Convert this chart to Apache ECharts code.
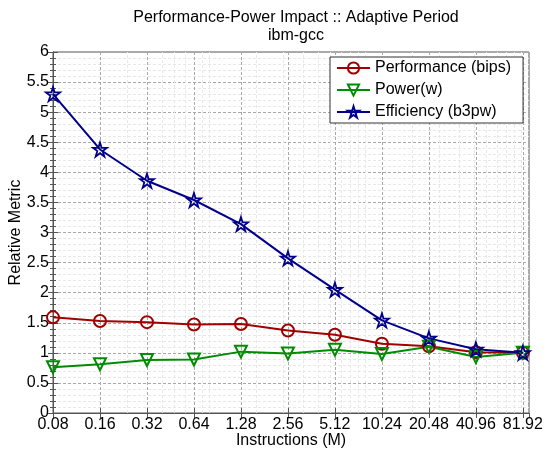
<!DOCTYPE html>
<html><head><meta charset="utf-8">
<script src="https://cdn.jsdelivr.net/npm/echarts@6/dist/echarts.min.js"></script>
<style>html,body{margin:0;padding:0;background:#fff;}#c{width:546px;height:453px;}</style>
</head><body><div id="c"></div>
<script>
const instructions = ['0.08','0.16','0.32','0.64','1.28','2.56','5.12','10.24','20.48','40.96','81.92'];
const performance = [1.59,1.53,1.51,1.47,1.48,1.37,1.30,1.15,1.11,1.01,1.00];
const power = [0.76,0.81,0.88,0.89,1.02,0.99,1.05,0.98,1.10,0.93,1.00];
const efficiency = [5.30,4.38,3.86,3.54,3.14,2.57,2.05,1.54,1.24,1.06,1.00];
const yTicks = [0,0.5,1,1.5,2,2.5,3,3.5,4,4.5,5,5.5,6];

const FONT = 'Liberation Sans, Arial, sans-serif';
const XMAX = 10.13;
// log-decade minor grid positions (axis is log2 of instructions / 0.08)
const minorX = [];
for (let d = 1; d <= 1000; d *= 10) {
  for (let k = 1; k <= 9; k++) {
    const u = k * d;
    if (u > 1 && u < 1120 && Math.abs(Math.log2(u) - Math.round(Math.log2(u))) > 1e-9) minorX.push(Math.log2(u));
  }
}
const star = 'path://M100 0 L122.45 69.1 L195.1 69.1 L136.33 111.8 L158.8 180.9 L100 138.2 L41.2 180.9 L63.67 111.8 L4.9 69.1 L77.55 69.1 Z';
const cPerf = '#a00000', cPow = '#008c00', cEff = '#00008c';
const pairs = arr => arr.map((v, i) => [i, v]);
function mkSeries(name, data, color, symbol, rotate, size, bw) {
  return {
    name, type: 'line', data: pairs(data), xAxisIndex: 0, yAxisIndex: 0,
    symbol, symbolSize: size, symbolRotate: rotate, showAllSymbol: true,
    lineStyle: { color, width: 2 },
    itemStyle: { color: 'rgba(255,255,255,0)', borderColor: color, borderWidth: bw },
    emphasis: { disabled: true }, animation: false, z: 5
  };
}
const chart = echarts.init(document.getElementById('c'), null, { renderer: 'canvas' });
const axisLineStyle = { color: '#555', width: 1 };
chart.setOption({
  backgroundColor: '#fff',
  animation: false,
  title: {
    text: 'Performance-Power Impact :: Adaptive Period\nibm-gcc',
    left: 291, top: 4, textAlign: 'center',
    textStyle: { fontFamily: FONT, fontSize: 16, fontWeight: 'normal', color: '#000', lineHeight: 18 }
  },
  legend: {
    orient: 'vertical', left: 330, top: 57,
    data: ['Performance (bips)', 'Power(w)', 'Efficiency (b3pw)'],
    itemWidth: 33, itemHeight: 14, itemGap: 6, itemTextGap: 3,
    padding: [3, 12, 3, 6],
    backgroundColor: '#fff', borderColor: '#333', borderWidth: 1, borderRadius: 0,
    textStyle: { fontFamily: FONT, fontSize: 16, color: '#000' },
    selectedMode: false, z: 10
  },
  grid: { left: 53, right: 17, top: 52, bottom: 40, outerBoundsMode: 'none', containLabel: false,
    show: true, borderColor: '#555', borderWidth: 1, backgroundColor: '#fff' },
  xAxis: [{
    type: 'value', min: 0, max: XMAX, interval: 1, position: 'bottom',
    name: 'Instructions (M)', nameLocation: 'middle', nameGap: 20, nameMoveOverlap: false,
    nameTextStyle: { fontFamily: FONT, fontSize: 16, color: '#000' },
    axisLine: { show: true, lineStyle: axisLineStyle },
    axisTick: { show: true, inside: true, length: 5, lineStyle: axisLineStyle },
    axisLabel: { fontFamily: FONT, fontSize: 16, color: '#000', margin: 4, showMaxLabel: false, hideOverlap: false,
      formatter: v => (Math.abs(v - Math.round(v)) < 1e-6 && instructions[Math.round(v)]) ? instructions[Math.round(v)] : '' },
    splitLine: { show: true, lineStyle: { color: '#a8a8a8', type: [3, 2], width: 1 } }
  }, {
    type: 'value', min: 0, max: XMAX, interval: 1, position: 'top',
    axisLine: { show: true, lineStyle: axisLineStyle },
    axisTick: { show: true, inside: true, length: 5, lineStyle: axisLineStyle },
    axisLabel: { show: false }, splitLine: { show: false }
  }],
  yAxis: [{
    type: 'value', min: yTicks[0], max: yTicks[yTicks.length - 1], interval: 0.5, position: 'left',
    name: 'Relative Metric', nameLocation: 'middle', nameGap: 29, nameMoveOverlap: false,
    nameTextStyle: { fontFamily: FONT, fontSize: 16, color: '#000' },
    axisLine: { show: true, lineStyle: axisLineStyle },
    axisTick: { show: true, inside: true, length: 5, lineStyle: axisLineStyle },
    minorTick: { show: true, splitNumber: 5, length: 3, lineStyle: axisLineStyle },
    axisLabel: { fontFamily: FONT, fontSize: 16, color: '#000', margin: 4, formatter: v => String(v) },
    splitLine: { show: true, lineStyle: { color: '#a8a8a8', type: [3, 2], width: 1 } },
    minorSplitLine: { show: true, lineStyle: { color: '#e8e8e8', type: [3, 2], width: 1 } }
  }, {
    type: 'value', min: yTicks[0], max: yTicks[yTicks.length - 1], interval: 0.5, position: 'right',
    axisLine: { show: true, lineStyle: axisLineStyle },
    axisTick: { show: true, inside: true, length: 5, lineStyle: axisLineStyle },
    minorTick: { show: true, splitNumber: 5, length: 3, lineStyle: axisLineStyle },
    axisLabel: { show: false }, splitLine: { show: false }
  }],
  series: [
    {
      name: 'minorgrid', type: 'line', data: [], xAxisIndex: 0, yAxisIndex: 0, silent: true,
      markLine: {
        silent: true, symbol: 'none', animation: false, label: { show: false },
        lineStyle: { color: '#e8e8e8', type: [3, 2], width: 1 },
        data: minorX.map(x => ({ xAxis: x }))
      }, z: 1
    },
    mkSeries('Performance (bips)', performance, cPerf, 'circle', 0, 12, 2),
    mkSeries('Power(w)', power, cPow, 'triangle', 180, 12, 2),
    mkSeries('Efficiency (b3pw)', efficiency, cEff, star, 0, 14, 1.8)
  ]
});
</script>
</body></html>
